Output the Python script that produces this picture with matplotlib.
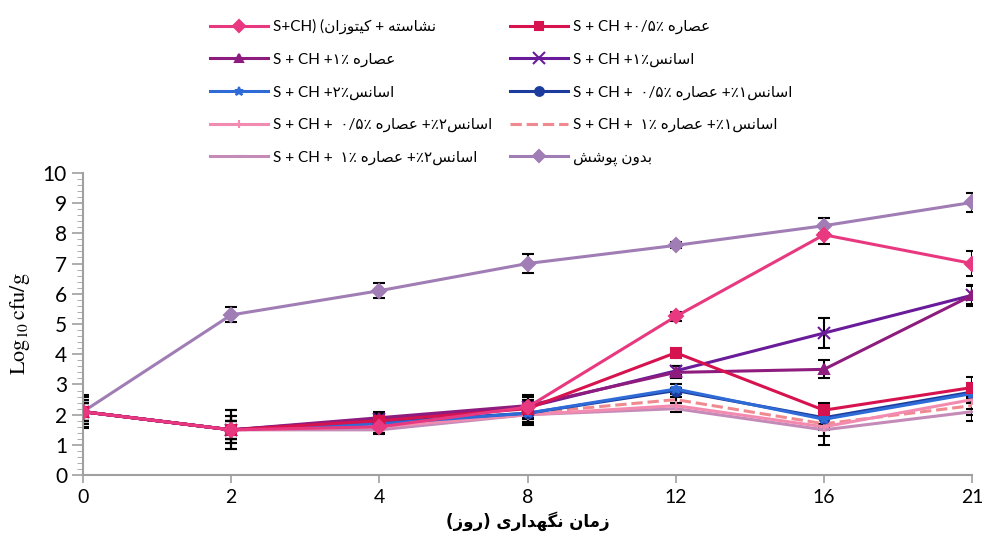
"""Log10 cfu/g over storage days for coated samples"""
import numpy as np
import matplotlib
matplotlib.use('Agg')
from matplotlib import pyplot as plt

# Persian letters -> (isolated, final, initial, medial) presentation forms
FORMS = {
    'ا': ('\uFE8D', '\uFE8E', None, None),
    'ب': ('\uFE8F', '\uFE90', '\uFE91', '\uFE92'),
    'پ': ('\uFB56', '\uFB57', '\uFB58', '\uFB59'),
    'ت': ('\uFE95', '\uFE96', '\uFE97', '\uFE98'),
    'د': ('\uFEA9', '\uFEAA', None, None),
    'ر': ('\uFEAD', '\uFEAE', None, None),
    'ز': ('\uFEAF', '\uFEB0', None, None),
    'س': ('\uFEB1', '\uFEB2', '\uFEB3', '\uFEB4'),
    'ش': ('\uFEB5', '\uFEB6', '\uFEB7', '\uFEB8'),
    'ص': ('\uFEB9', '\uFEBA', '\uFEBB', '\uFEBC'),
    'ع': ('\uFEC9', '\uFECA', '\uFECB', '\uFECC'),
    'ک': ('\uFB8E', '\uFB8F', '\uFB90', '\uFB91'),
    'گ': ('\uFB92', '\uFB93', '\uFB94', '\uFB95'),
    'م': ('\uFEE1', '\uFEE2', '\uFEE3', '\uFEE4'),
    'ن': ('\uFEE5', '\uFEE6', '\uFEE7', '\uFEE8'),
    'ه': ('\uFEE9', '\uFEEA', '\uFEEB', '\uFEEC'),
    'و': ('\uFEED', '\uFEEE', None, None),
    'ی': ('\uFBFC', '\uFBFD', '\uFBFE', '\uFBFF'),
}
MIRROR = {'(': ')', ')': '('}


def fa(text):
    """Shape a Persian string and return it in visual (left to right) order"""
    out = []
    for i, ch in enumerate(text):
        if ch not in FORMS:
            out.append(MIRROR.get(ch, ch))
            continue
        prev = text[i - 1] if i > 0 else ''
        nxt = text[i + 1] if i + 1 < len(text) else ''
        join_prev = prev in FORMS and FORMS[prev][2] is not None
        join_next = nxt in FORMS and FORMS[ch][2] is not None
        iso, fin, ini, med = FORMS[ch]
        if join_prev and join_next:
            out.append(med)
        elif join_prev:
            out.append(fin)
        elif join_next:
            out.append(ini)
        else:
            out.append(iso)
    return ''.join(reversed(out))


EXT = fa('عصاره')
ESS = fa('اسانس')

days = ['0', '2', '4', '8', '12', '16', '21']

labels = [
    'S+CH) (' + fa('نشاسته + کیتوزان'),
    'S + CH +۰/۵٪ ' + EXT,
    'S + CH +۱٪ ' + EXT,
    'S + CH +۱٪' + ESS,
    'S + CH +۲٪' + ESS,
    'S + CH +  ۰/۵٪ ' + EXT + ' +٪۱' + ESS,
    'S + CH +  ۰/۵٪ ' + EXT + ' +٪۲' + ESS,
    'S + CH +  ۱٪ ' + EXT + ' +٪۱' + ESS,
    'S + CH +  ۱٪ ' + EXT + ' +٪۲' + ESS,
    fa('بدون پوشش'),
]

s_ch = [2.1, 1.5, 1.6, 2.25, 5.25, 7.95, 7.0]
ext_05 = [2.1, 1.5, 1.8, 2.2, 4.05, 2.15, 2.9]
ext_1 = [2.1, 1.5, 1.9, 2.3, 3.4, 3.5, 5.95]
ess_1 = [2.1, 1.5, 1.85, 2.25, 3.45, 4.7, 5.95]
ess_2 = [2.1, 1.5, 1.7, 2.05, 2.85, 1.85, 2.7]
ess1_ext05 = [2.1, 1.5, 1.75, 2.05, 2.8, 1.9, 2.75]
ess2_ext05 = [2.1, 1.5, 1.6, 2.0, 2.3, 1.6, 2.5]
ess1_ext1 = [2.1, 1.5, 1.6, 2.05, 2.5, 1.7, 2.3]
ess2_ext1 = [2.1, 1.5, 1.5, 2.0, 2.2, 1.5, 2.1]
control = [2.1, 5.3, 6.1, 7.0, 7.6, 8.25, 9.02]

err_s_ch = [0.3, 0.45, 0.2, 0.4, 0.15, 0.3, 0.4]
err_ext_05 = [0.4, 0.65, 0.25, 0.3, 0.1, 0.25, 0.35]
err_ext_1 = [0.55, 0.45, 0.2, 0.3, 0.2, 0.3, 0.35]
err_ess_1 = [0.3, 0.3, 0.2, 0.25, 0.15, 0.5, 0.3]
err_ess_2 = [0.3, 0.65, 0.3, 0.4, 0.15, 0.25, 0.3]
err_ess1_ext05 = [0.3, 0.3, 0.2, 0.3, 0.1, 0.2, 0.3]
err_ess2_ext05 = [0.3, 0.3, 0.2, 0.3, 0.1, 0.3, 0.3]
err_ess1_ext1 = [0.3, 0.3, 0.2, 0.3, 0.1, 0.2, 0.3]
err_ess2_ext1 = [0.3, 0.3, 0.15, 0.3, 0.1, 0.5, 0.3]
err_control = [0.5, 0.25, 0.25, 0.3, 0.1, 0.25, 0.3]

series = [s_ch, ext_05, ext_1, ess_1, ess_2, ess1_ext05, ess2_ext05, ess1_ext1, ess2_ext1, control]
errors = [err_s_ch, err_ext_05, err_ext_1, err_ess_1, err_ess_2, err_ess1_ext05,
          err_ess2_ext05, err_ess1_ext1, err_ess2_ext1, err_control]
colors = ['#E8387F', '#D6134F', '#8E1C7E', '#6A1B9A', '#2E6BD6', '#1B3C9C',
          '#F38BB0', '#F08A90', '#C48BB8', '#A07DB4']
markers = ['D', 's', '^', 'x', '*', 'o', '+', None, '_', 'D']
styles = ['-', '-', '-', '-', '-', '-', '-', '--', '-', '-']

plt.rcParams['font.family'] = ['Lato', 'DejaVu Sans']
plt.rcParams['mathtext.fontset'] = 'stix'

fig = plt.figure(figsize=(9.82, 5.4), dpi=100)
ax = fig.add_axes([0.0845, 0.12, 0.9055, 0.56])

x = np.arange(len(days))
handles = []
# draw in reverse so that the first series end up on top
for i in reversed(range(len(series))):
    ax.errorbar(x, series[i], yerr=errors[i], fmt='none', ecolor='black',
                elinewidth=1.5, capsize=4, capthick=1.5, zorder=2)
for i in reversed(range(len(series))):
    h, = ax.plot(x, series[i], color=colors[i], linestyle=styles[i], linewidth=2.2,
                 marker=markers[i], markersize=7 if markers[i] != 'x' else 9,
                 markeredgewidth=1.5, zorder=3)
    handles.insert(0, h)

ax.set_xlim(0, 6)
ax.set_ylim(0, 10)
ax.set_xticks(x)
ax.set_xticklabels(days, fontsize=14)
ax.set_yticks(range(0, 11))
ax.set_yticks(np.arange(0, 10.01, 0.2), minor=True)
ax.tick_params(axis='y', labelsize=15, colors='#a0a0a0', labelcolor='black', length=8, width=1.2)
ax.tick_params(axis='y', which='minor', colors='#a0a0a0', length=4)
ax.tick_params(axis='x', colors='#a0a0a0', labelcolor='black', length=6, width=1.2, pad=4)
for side in ['top', 'right']:
    ax.spines[side].set_visible(False)
for side in ['left', 'bottom']:
    ax.spines[side].set_color('#a0a0a0')
    ax.spines[side].set_linewidth(1.5)

ax.set_ylabel(r'$\mathrm{Log_{10}\,cfu/g}$', fontsize=16, labelpad=8)
ax.set_xlabel(fa('زمان نگهداری (روز)'), fontsize=12, fontweight='bold', labelpad=4,
              family=['DejaVu Sans'])

# legend is filled column by column: left column first, then right column
order = [0, 2, 4, 6, 8, 1, 3, 5, 7, 9]
fig.legend([handles[k] for k in order], [labels[k] for k in order],
           loc='upper left', bbox_to_anchor=(0.2, 0.99), ncol=2, frameon=False,
           fontsize=11, handlelength=3.8, labelspacing=1.2, columnspacing=1.2,
           handletextpad=0.3, markerscale=0.9)

fig.savefig('out.png', dpi=100)
